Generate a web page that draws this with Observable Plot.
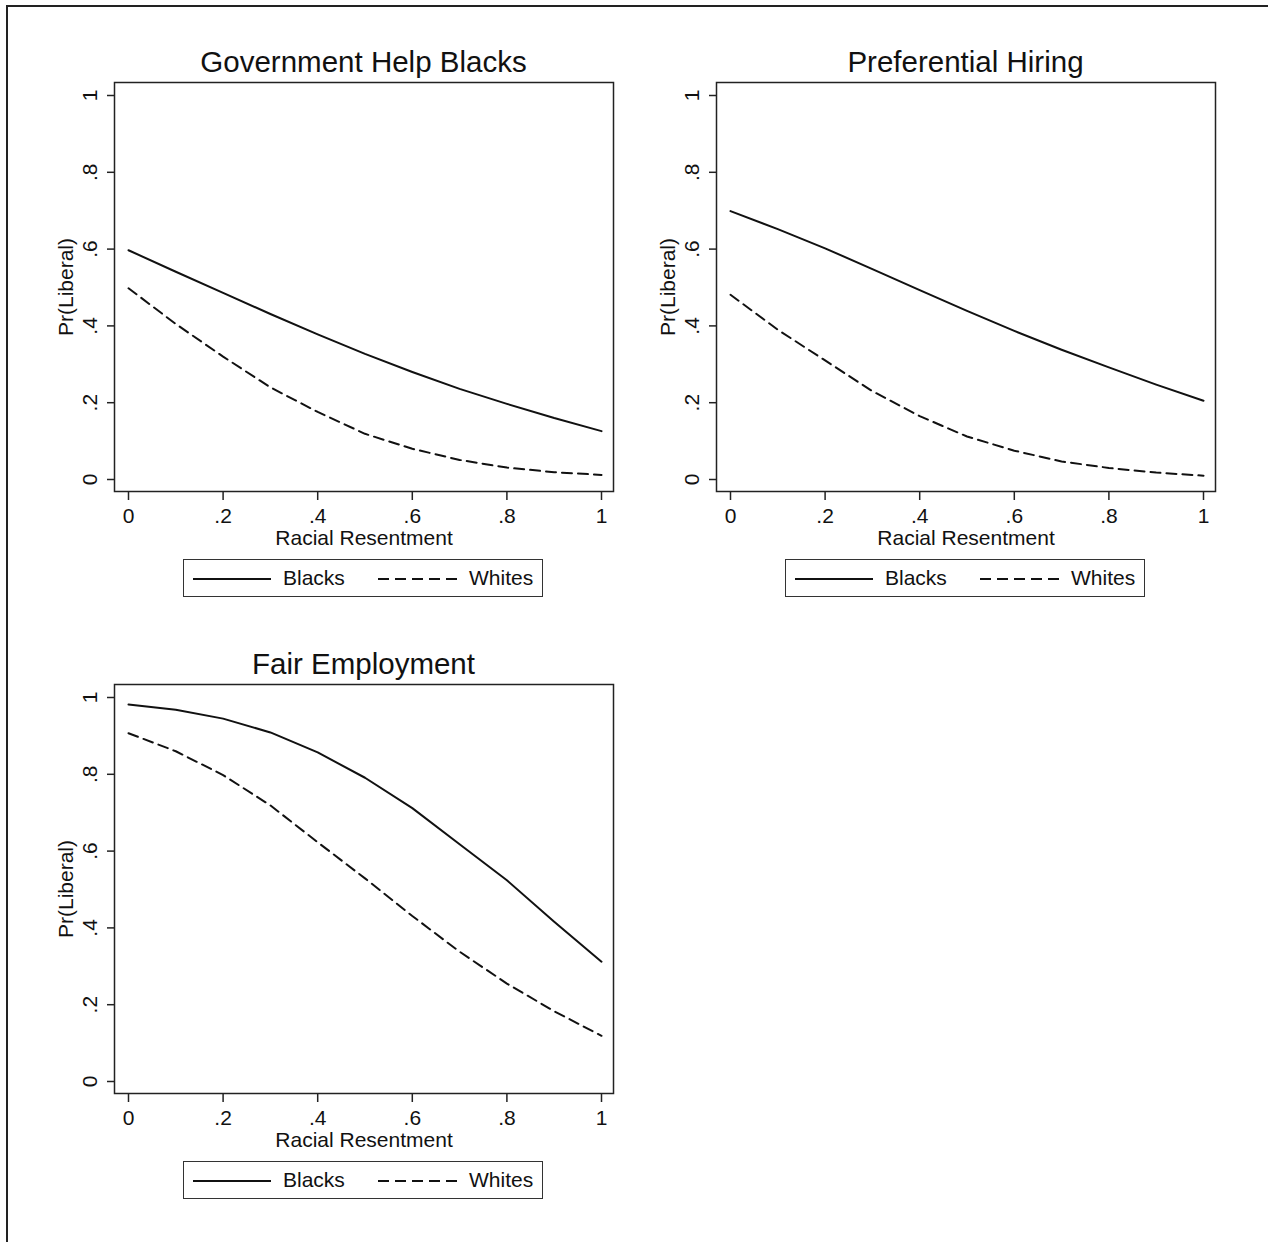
<!DOCTYPE html>
<html>
<head>
<meta charset="utf-8">
<script src="https://cdn.jsdelivr.net/npm/d3@7"></script>
<script src="https://cdn.jsdelivr.net/npm/@observablehq/plot@0.6"></script>
<style>
  body { margin: 0; background: #fff; font-family: "Liberation Sans", Arial, sans-serif; color: #111; }
  #page { position: relative; width: 1268px; height: 1242px; overflow: hidden; background: #fff; }
  #border { position: absolute; left: 6px; top: 5px; width: 1400px; height: 1400px; border-top: 2px solid #222; border-left: 2px solid #222; }
  .panel { position: absolute; width: 640px; height: 602px; }
  .title { position: absolute; left: 0; width: 727px; top: 46px; text-align: center; font-size: 29.5px; line-height: 32px; white-space: nowrap; }
  .plotwrap { position: absolute; left: 20px; top: 78px; }
  .legend { position: absolute; left: 183px; top: 559px; width: 358px; height: 36px; border: 1.5px solid #333; }
  .legend .item { position: absolute; top: 0; height: 36px; line-height: 36px; font-size: 21px; white-space: nowrap; }
  .legend svg { position: absolute; top: 17px; }
</style>
</head>
<body>
<div id="page"><div id="border"></div></div>
<script>
// ---- data ----
const xValues = [0, 0.1, 0.2, 0.3, 0.4, 0.5, 0.6, 0.7, 0.8, 0.9, 1];
const panelTitles = ["Government Help Blacks", "Preferential Hiring", "Fair Employment"];
const seriesNames = ["Blacks", "Whites"];
const govHelpBlacks = [0.597, 0.541, 0.486, 0.431, 0.378, 0.327, 0.280, 0.236, 0.197, 0.160, 0.126];
const govHelpWhites = [0.498, 0.405, 0.320, 0.240, 0.176, 0.119, 0.080, 0.051, 0.031, 0.019, 0.012];
const prefHiringBlacks = [0.699, 0.652, 0.602, 0.548, 0.493, 0.439, 0.387, 0.338, 0.292, 0.247, 0.205];
const prefHiringWhites = [0.481, 0.390, 0.310, 0.230, 0.165, 0.112, 0.075, 0.047, 0.030, 0.018, 0.010];
const fairEmpBlacks = [0.982, 0.968, 0.945, 0.909, 0.857, 0.791, 0.712, 0.618, 0.524, 0.416, 0.312];
const fairEmpWhites = [0.907, 0.860, 0.798, 0.719, 0.623, 0.529, 0.431, 0.338, 0.255, 0.183, 0.119];
const tickValues = [0, 0.2, 0.4, 0.6, 0.8, 1];
const tickLabels = ["0", ".2", ".4", ".6", ".8", "1"];
const xAxisLabel = "Racial Resentment";
const yAxisLabel = "Pr(Liberal)";

const panels = [
  {title: panelTitles[0], blacks: govHelpBlacks, whites: govHelpWhites, col: 0, row: 0},
  {title: panelTitles[1], blacks: prefHiringBlacks, whites: prefHiringWhites, col: 1, row: 0},
  {title: panelTitles[2], blacks: fairEmpBlacks, whites: fairEmpWhites, col: 0, row: 1}
];

const fmt = d => tickLabels[tickValues.findIndex(t => Math.abs(t - d) < 1e-9)];
const DASH = "10,6";
const FS = 21;
const page = document.getElementById("page");

for (const p of panels) {
  const panel = document.createElement("div");
  panel.className = "panel";
  panel.style.left = (p.col * 602) + "px";
  panel.style.top = (p.row * 602) + "px";
  page.appendChild(panel);

  const t = document.createElement("div");
  t.className = "title";
  t.textContent = p.title;
  panel.appendChild(t);

  const blacksData = xValues.map((x, i) => ({x, y: p.blacks[i]}));
  const whitesData = xValues.map((x, i) => ({x, y: p.whites[i]}));

  const chart = Plot.plot({
    width: 600,
    height: 474,
    marginLeft: 94,
    marginRight: 7,
    marginTop: 4,
    marginBottom: 61,
    style: {fontFamily: '"Liberation Sans", Arial, sans-serif', fontSize: FS + "px", color: "#111", background: "transparent", overflow: "visible"},
    x: {domain: [0, 1], insetLeft: 14, insetRight: 12},
    y: {domain: [0, 1], insetTop: 13, insetBottom: 12},
    marks: [
      Plot.frame({stroke: "#222", strokeWidth: 1.5}),
      // tick marks from the library's axes; labels drawn as text on the same scales
      Plot.axisX(tickValues, {tickSize: 9, tickFormat: () => "", label: null, stroke: "#222", strokeWidth: 1.5}),
      Plot.axisY(tickValues, {tickSize: 7, tickFormat: () => "", label: null, stroke: "#222", strokeWidth: 1.5}),
      Plot.text(tickValues, {x: d => d, text: fmt, frameAnchor: "bottom", dy: 25, textAnchor: "middle", lineAnchor: "middle", fontSize: FS, fill: "#111"}),
      Plot.text(tickValues, {y: d => d, text: fmt, frameAnchor: "left", dx: -24, rotate: -90, textAnchor: "middle", lineAnchor: "middle", fontSize: FS, fill: "#111"}),
      Plot.text([xAxisLabel], {frameAnchor: "bottom", dy: 47, textAnchor: "middle", lineAnchor: "middle", fontSize: FS, fill: "#111"}),
      Plot.text([yAxisLabel], {frameAnchor: "left", dx: -48, rotate: -90, textAnchor: "middle", lineAnchor: "middle", fontSize: FS, fill: "#111"}),
      Plot.line(blacksData, {x: "x", y: "y", stroke: "#111", strokeWidth: 2}),
      Plot.line(whitesData, {x: "x", y: "y", stroke: "#111", strokeWidth: 2, strokeDasharray: DASH})
    ]
  });
  const wrap = document.createElement("div");
  wrap.className = "plotwrap";
  wrap.appendChild(chart);
  panel.appendChild(wrap);

  // legend
  const lg = document.createElement("div");
  lg.className = "legend";
  lg.innerHTML =
    `<svg width="78" height="4" style="left:9px"><line x1="0" y1="2" x2="78" y2="2" stroke="#111" stroke-width="2"/></svg>` +
    `<div class="item" style="left:99px">${seriesNames[0]}</div>` +
    `<svg width="80" height="4" style="left:194px"><line x1="0" y1="2" x2="80" y2="2" stroke="#111" stroke-width="2" stroke-dasharray="11,6"/></svg>` +
    `<div class="item" style="left:285px">${seriesNames[1]}</div>`;
  panel.appendChild(lg);
}
</script>
</body>
</html>
